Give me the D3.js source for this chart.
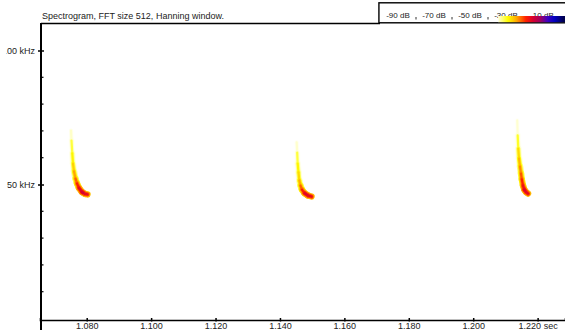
<!DOCTYPE html>
<html>
<head>
<meta charset="utf-8">
<script src="https://cdn.jsdelivr.net/npm/d3@7"></script>
<style>
  body { margin: 0; background: #fff; }
  svg { display: block; font-family: "Liberation Sans", Arial, sans-serif; }
  .axis text { font-size: 9px; fill: #222; }
</style>
</head>
<body>
<svg id="chart" width="565" height="330"></svg>
<script>
// ------------------------------------------
//  Data
// ------------------------------------------
const title = 'Spectrogram, FFT size 512, Hanning window.'
const timeTicks = [1.08, 1.10, 1.12, 1.14, 1.16, 1.18, 1.20, 1.22]
const freqMajor = [50, 100]
const freqMinor = [10, 20, 30, 40, 60, 70, 80, 90]
const legendLabels = [-90, -70, -50, -30, -10]
const legendMarks = [-80, -60, -40, -20]

// ridge of each call: [time s, frequency kHz, level dB]
const call1 = [
  [1.07513, 70.1, -36], [1.07528, 66.4, -32], [1.07553, 61.6, -29],
  [1.07575, 57.8, -28], [1.07606, 54.9, -25], [1.07652, 52.2, -23],
  [1.07699, 50.4, -20], [1.07761, 48.7, -17], [1.07854, 47.2, -15],
  [1.07947, 46.5, -14], [1.08025, 46.3, -19]
]
const call2 = [
  [1.14519, 65.7, -37], [1.14535, 61.9, -32], [1.14551, 57.8, -29],
  [1.14576, 54.5, -28], [1.14601, 51.5, -26], [1.14638, 49.6, -23],
  [1.14684, 48.1, -20], [1.14762, 46.8, -17], [1.14871, 45.9, -14],
  [1.14980, 45.5, -18]
]
const call3 = [
  [1.21368, 73.9, -38], [1.21381, 68.3, -32], [1.21400, 63.4, -28],
  [1.21422, 59.7, -26], [1.21453, 56.7, -24], [1.21484, 54.1, -22],
  [1.21509, 51.9, -20], [1.21546, 49.6, -18], [1.21587, 48.1, -16],
  [1.21640, 47.2, -14], [1.21702, 46.6, -18]
]
const calls = [call1, call2, call3]

// colour map of the dB legend
const colorStops = [-40, -34, -29, -24, -19, -15, -11, -7, -3, 2]
const colorRange = ['#ffffff', '#ffffc8', '#ffff00', '#ffa500', '#ff2000',
  '#d80030', '#a00060', '#4000c0', '#0000c0', '#000050']

// ------------------------------------------
//  Chart
// ------------------------------------------
const svg = d3.select('#chart')
const plotLeft = 41, plotTop = 23.5, plotBottom = 320

const x = d3.scaleLinear().domain([1.0655, 1.2285]).range([40, 565])
const y = d3.scaleLinear().domain([0, 110]).range([318.5, 23.7])
const color = d3.scaleLinear().domain(colorStops).range(colorRange).clamp(true)

// spectrogram marks
const marks = svg.append('g')
calls.forEach(call => {
  const segs = d3.pairs(call)
  const layers = [[9, 6.4], [4, 4.2], [0, 2.2]]
  layers.forEach(([off, w]) => {
    marks.append('g').selectAll('line')
      .data(segs)
      .enter().append('line')
      .attr('x1', d => x(d[0][0])).attr('y1', d => y(d[0][1]))
      .attr('x2', d => x(d[1][0])).attr('y2', d => y(d[1][1]))
      .attr('stroke', d => color((d[0][2] + d[1][2]) / 2 - off))
      .attr('stroke-width', w)
      .attr('stroke-linecap', 'round')
  })
})

// x axis
const xAxis = svg.append('g').attr('class', 'axis')
  .attr('transform', `translate(0,${plotBottom})`)
  .call(d3.axisBottom(x).tickValues(timeTicks).tickSize(-2).tickPadding(6)
    .tickFormat((d, i) => d3.format('.3f')(d) + (i === timeTicks.length - 1 ? ' sec' : '')))
xAxis.select('.domain').attr('stroke', '#000').attr('stroke-width', 1.6)
xAxis.selectAll('.tick line').attr('y2', 1.5).attr('y1', -2).attr('stroke-width', 1.5)
xAxis.selectAll('.tick text').attr('y', 9.3).attr('dy', 0)

// y axis
const clip = svg.append('clipPath').attr('id', 'yclip')
clip.append('rect').attr('x', 6.5).attr('y', 0).attr('width', 60).attr('height', 330)

const yAxis = svg.append('g').attr('class', 'axis')
  .attr('clip-path', 'url(#yclip)')
  .append('g')
  .attr('transform', `translate(${plotLeft},0)`)
  .call(d3.axisLeft(y).tickValues(freqMajor).tickSize(3).tickPadding(3)
    .tickFormat(d => d + ' kHz'))
yAxis.select('.domain').remove()
yAxis.selectAll('.tick line').attr('x2', 3).attr('x1', -3).attr('stroke-width', 1.3)
yAxis.selectAll('.tick text').attr('dy', '0.35em')

svg.append('g').attr('transform', `translate(${plotLeft},0)`)
  .selectAll('line').data(freqMinor)
  .enter().append('line')
  .attr('x1', 0).attr('x2', 2.5)
  .attr('y1', d => y(d)).attr('y2', d => y(d))
  .attr('stroke', '#000').attr('stroke-width', 1.2)

svg.append('line')
  .attr('x1', plotLeft).attr('x2', plotLeft).attr('y1', plotTop - 0.5).attr('y2', 330)
  .attr('stroke', '#000').attr('stroke-width', 2)

// top frame line
svg.append('line')
  .attr('x1', plotLeft).attr('x2', 380).attr('y1', plotTop).attr('y2', plotTop)
  .attr('stroke', '#000').attr('stroke-width', 1.4)

// title
svg.append('text')
  .attr('x', 42).attr('y', 19)
  .attr('font-size', 9).attr('fill', '#222')
  .text(title)

// ------------------------------------------
//  dB legend
// ------------------------------------------
const lx = d3.scaleLinear().domain([-90, -10]).range([398, 542])
const legend = svg.append('g')

legend.append('rect')
  .attr('x', lx(-100.6)).attr('y', 2.8)
  .attr('width', 566 - lx(-100.6) + 2).attr('height', 20)
  .attr('fill', '#fff').attr('stroke', '#000').attr('stroke-width', 1.4)

legend.selectAll('.lab').data(legendLabels)
  .enter().append('text')
  .attr('class', 'lab')
  .attr('x', d => lx(d)).attr('y', 17.5)
  .attr('text-anchor', 'middle')
  .attr('font-size', 8).attr('fill', '#222')
  .text(d => d + ' dB')

legend.selectAll('.mark').data(legendMarks)
  .enter().append('line')
  .attr('x1', d => lx(d)).attr('x2', d => lx(d))
  .attr('y1', 17).attr('y2', 19.5)
  .attr('stroke', '#333').attr('stroke-width', 1)

const g0 = lx(-34.4), g1 = 565
const grad = svg.append('defs').append('linearGradient')
  .attr('id', 'dbgrad')
  .attr('gradientUnits', 'userSpaceOnUse')
  .attr('x1', g0).attr('x2', g1).attr('y1', 0).attr('y2', 0)
grad.selectAll('stop').data(colorStops)
  .enter().append('stop')
  .attr('offset', d => Math.max(0, Math.min(1, (lx(d) - g0) / (g1 - g0))))
  .attr('stop-color', d => color(d))

legend.append('rect')
  .attr('x', g0).attr('y', 16)
  .attr('width', g1 - g0).attr('height', 6.2)
  .attr('fill', 'url(#dbgrad)')
</script>
</body>
</html>
